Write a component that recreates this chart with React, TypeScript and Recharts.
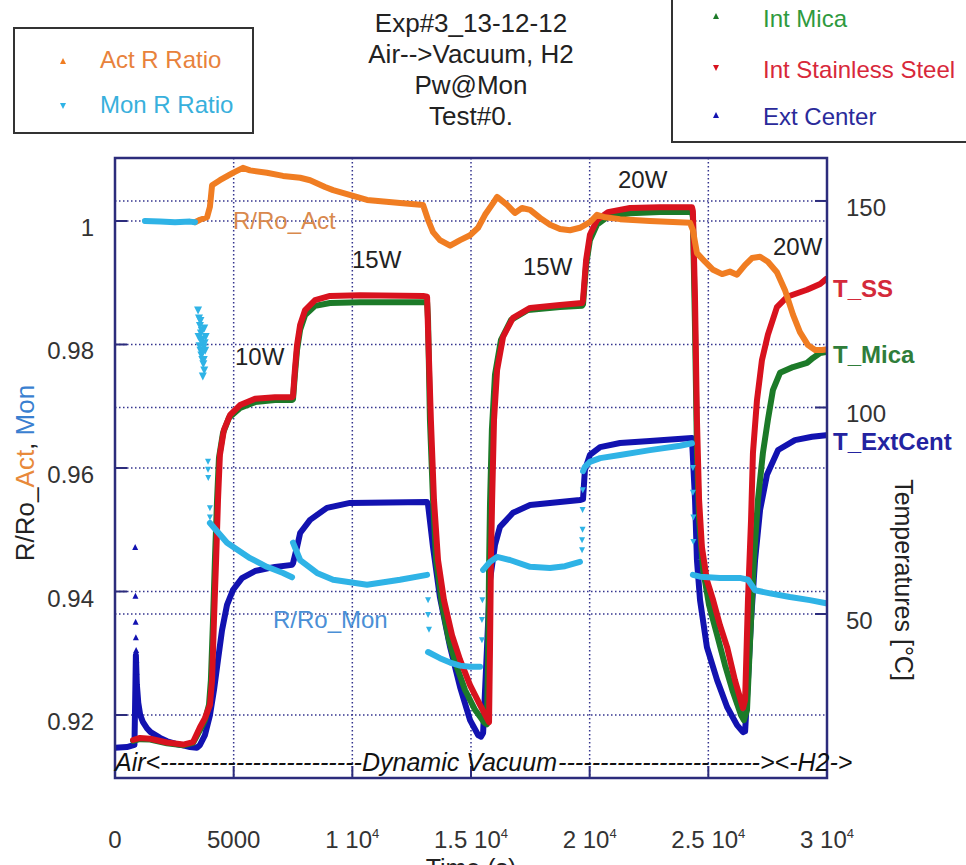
import React from 'react';
import { ComposedChart, Line, Scatter, XAxis, YAxis, CartesianGrid } from 'recharts';

type Pt = [number, number];

// axis ticks
const timeTicks = [0, 5000, 10000, 15000, 20000, 25000, 30000];
const ratioTicks = [0.92, 0.94, 0.96, 0.98, 1];
const tempTicks = [50, 100, 150];

// R/Ro of the active sensor (left axis)
const actRatio: Pt[] = [
  [3370, 0.9998], [3580, 1.0002], [3880, 1.0006], [4000, 1.0023], [4090, 1.0058], [4420, 1.0066],
  [4970, 1.0078], [5390, 1.0086], [5690, 1.0082], [6400, 1.0078], [7080, 1.0073], [7800, 1.0070],
  [8220, 1.0066], [8850, 1.0055], [9190, 1.005], [10620, 1.0034], [12010, 1.0029], [12980, 1.0026],
  [13190, 1.0002], [13400, 0.9982], [13690, 0.9969], [14120, 0.996], [14540, 0.9969], [14960, 0.9977],
  [15300, 0.9989], [15590, 1.001], [15930, 1.0029], [16100, 1.0039], [16520, 1.0026], [16850, 1.0013],
  [17150, 1.0021], [17490, 1.0018], [17910, 1.0005], [18330, 0.9994], [18750, 0.9987], [19170, 0.9985],
  [19590, 0.9989], [20010, 0.9998], [20310, 1.001], [20650, 1.0006], [21280, 1.0003], [22540, 1.0],
  [24230, 0.9997], [24350, 0.9985], [24520, 0.9948], [24860, 0.9934], [25200, 0.9921], [25580, 0.9914],
  [25910, 0.9918], [26210, 0.9913], [26550, 0.9929], [26840, 0.994], [27180, 0.9942], [27510, 0.9934],
  [27890, 0.9917], [28230, 0.9888], [28570, 0.9848], [28860, 0.982], [29200, 0.9799], [29500, 0.9791],
  [29790, 0.9791], [29960, 0.9792],
];

// R/Ro of the monitor sensor (left axis), one array per stage
const monAir: Pt[] = [[1260, 1.0], [1900, 0.9999], [2530, 0.9998], [3160, 0.9999], [3370, 0.9998]];
const mon10W: Pt[] = [[4000, 0.9511], [4720, 0.9479], [5690, 0.9454], [6400, 0.944], [7080, 0.943], [7460, 0.9423]];
const mon15W: Pt[] = [[7500, 0.9479], [7800, 0.9451], [8510, 0.943], [9190, 0.9419], [10620, 0.9411], [12010, 0.9419], [13150, 0.9427]];
const monCool: Pt[] = [[13190, 0.9302], [13690, 0.9292], [14120, 0.9285], [14540, 0.928], [14960, 0.9278], [15380, 0.9278]];
const mon15Wb: Pt[] = [[15510, 0.9435], [15800, 0.9448], [16100, 0.9456], [16640, 0.9451], [17490, 0.944], [18330, 0.9438], [18960, 0.9441], [19590, 0.9448]];
const mon20W: Pt[] = [[19720, 0.9595], [19800, 0.9602], [20010, 0.961], [20440, 0.9616], [21280, 0.9621], [22540, 0.9629], [23810, 0.9636], [24310, 0.964]];
const monH2: Pt[] = [[24350, 0.9427], [24650, 0.9424], [25490, 0.9422], [26330, 0.9422], [26670, 0.9419], [26970, 0.9402], [27600, 0.9397], [28440, 0.9391], [29280, 0.9386], [29960, 0.9381]];
const monCluster: Pt[] = [
  [3500, 0.9855], [3540, 0.9842], [3580, 0.983], [3620, 0.9818], [3660, 0.9808], [3700, 0.98],
  [3740, 0.9795], [3780, 0.9802], [3820, 0.9812], [3600, 0.979], [3640, 0.9782], [3680, 0.9775],
  [3720, 0.9768], [3760, 0.9758], [3700, 0.9748], [3660, 0.9822], [3560, 0.9797], [3800, 0.979],
  [3520, 0.9812], [3760, 0.9826], [3640, 0.9805], [3700, 0.9787], [3600, 0.9838], [3740, 0.9775],
];
const monLoose: Pt[] = [
  [3920, 0.961], [3920, 0.9597], [3930, 0.9584], [4000, 0.9535], [4000, 0.952],
  [13190, 0.9386], [13190, 0.9362], [13230, 0.9338],
  [15460, 0.9321], [15460, 0.9354], [15480, 0.9386],
  [19680, 0.9467], [19680, 0.9483], [19700, 0.95], [19700, 0.9532], [19710, 0.9564],
  [24350, 0.96], [24350, 0.956], [24370, 0.952], [24370, 0.948],
];

// temperatures (right axis)
const extCenter: Pt[] = [
  [0, 17.6], [500, 17.8], [820, 18.3], [880, 40.0], [920, 33.0], [980, 28.5], [1060, 25.6], [1180, 23.8],
  [1350, 22.3], [1500, 21.4], [1900, 20.0], [2200, 19.2], [2530, 18.6], [2870, 18.2], [3160, 17.8],
  [3450, 17.6], [3580, 18.3], [3790, 20.7], [4000, 25.5], [4170, 31.6], [4340, 38.9], [4510, 46.1],
  [4720, 52.2], [4970, 55.8], [5350, 58.7], [5900, 60.4], [6740, 61.4], [7460, 61.9], [7500, 62.3],
  [7670, 66.2], [7800, 69.6], [8220, 72.8], [8930, 75.7], [9900, 76.9], [13150, 77.1], [13190, 76.5],
  [13400, 66.2], [13690, 54.1], [14120, 42.0], [14540, 32.3], [14960, 24.3], [15300, 20.7], [15420, 20.3],
  [15510, 21.2], [15670, 41.3], [15800, 58.2], [16010, 66.7], [16220, 71.1], [16770, 74.5], [17490, 76.4],
  [18750, 77.1], [19590, 77.6], [19720, 77.8], [19800, 84.9], [20010, 88.5], [20440, 90.4], [21280, 91.4],
  [22540, 91.9], [24310, 92.6], [24440, 77.6], [24520, 63.1], [24650, 53.4], [24940, 42.0], [25370, 34.0],
  [25790, 27.5], [26210, 23.1], [26460, 21.4], [26550, 21.6], [26670, 34.0], [26800, 48.5], [26970, 63.1],
  [27180, 75.2], [27470, 83.7], [27940, 89.7], [28650, 92.1], [29370, 92.9], [29960, 93.3],
];
const extSpike: Pt[] = [[850, 66.2], [860, 54.4], [870, 48.1], [880, 44.4], [890, 41.3], [900, 38.9], [910, 36.0]];

const intMica: Pt[] = [
  [760, 19.3], [1050, 19.7], [1480, 19.6], [2190, 18.7], [2870, 18.2], [3290, 18.8], [3580, 21.9],
  [3790, 24.3], [3960, 28.0], [4040, 34.0], [4130, 48.5], [4210, 63.1], [4300, 77.6], [4380, 87.8],
  [4550, 93.8], [4800, 97.5], [5270, 99.9], [5900, 101.3], [6740, 101.8], [7460, 101.8], [7500, 102.0],
  [7580, 107.9], [7670, 113.9], [7800, 118.8], [8010, 122.4], [8430, 124.6], [9060, 125.3], [10320, 125.5],
  [13150, 125.5], [13190, 121.2], [13270, 97.0], [13400, 77.6], [13530, 63.1], [13780, 52.2], [14070, 43.7],
  [14370, 37.7], [14750, 31.6], [15170, 26.8], [15550, 23.8], [15670, 23.3], [15720, 38.9], [15760, 60.7],
  [15800, 76.4], [15880, 94.6], [16010, 107.9], [16260, 116.3], [16690, 121.2], [17400, 123.6], [18750, 124.3],
  [19680, 124.6], [19720, 125.0], [19850, 134.5], [20010, 140.5], [20310, 144.3], [20770, 146.2], [21700, 147.0],
  [22960, 147.3], [24310, 147.3], [24350, 146.0], [24440, 118.8], [24520, 89.7], [24610, 72.8], [24780, 60.7],
  [25030, 52.2], [25370, 44.9], [25700, 37.7], [26040, 31.1], [26380, 25.5], [26500, 24.3], [26630, 26.8],
  [26760, 43.7], [26920, 63.1], [27090, 77.6], [27300, 89.0], [27510, 97.0], [27720, 104.2], [28020, 108.4],
  [28570, 109.8], [29160, 110.8], [29410, 112.0], [29710, 113.2], [29960, 113.4],
];

const intSS: Pt[] = [
  [760, 19.5], [1050, 20.0], [1480, 19.8], [2190, 18.9], [2870, 18.4], [3290, 19.0], [3580, 22.6],
  [3790, 24.8], [4000, 28.0], [4090, 34.0], [4170, 48.5], [4260, 63.1], [4340, 77.6], [4420, 88.5],
  [4590, 94.6], [4850, 98.2], [5270, 100.6], [5900, 102.1], [6740, 102.5], [7460, 102.5], [7500, 102.7],
  [7580, 109.1], [7670, 115.1], [7800, 120.0], [8010, 123.6], [8430, 126.0], [9060, 127.0], [10320, 127.2],
  [12980, 127.0], [13150, 126.8], [13190, 118.8], [13310, 97.0], [13440, 77.6], [13610, 63.1], [13860, 53.4],
  [14200, 44.9], [14540, 38.9], [14960, 32.8], [15380, 28.0], [15670, 24.8], [15760, 23.8], [15800, 41.3],
  [15840, 63.1], [15890, 77.6], [15970, 97.0], [16100, 109.1], [16350, 117.1], [16770, 121.7], [17490, 124.1],
  [18750, 124.8], [19680, 125.3], [19720, 126.0], [19850, 135.7], [20010, 141.8], [20310, 145.4], [20770, 147.3],
  [21700, 148.3], [22960, 148.5], [24310, 148.5], [24350, 147.5], [24440, 126.0], [24520, 97.0], [24610, 77.6],
  [24730, 66.2], [24940, 58.2], [25200, 53.4], [25490, 47.3], [25790, 42.0], [26120, 34.0], [26460, 27.2],
  [26550, 29.2], [26670, 53.4], [26800, 72.8], [26880, 89.0], [27050, 101.8], [27260, 111.5], [27510, 117.6],
  [27890, 124.3], [28320, 126.8], [29160, 128.5], [29710, 129.9], [29960, 131.1],
];

const FONT = '"Liberation Sans", Arial, sans-serif';
const FRAME = '#2c2c7c';
const GRID = '#34348e';
const C_ACT = '#f07d22';
const C_MON = '#2fb3e6';
const C_MICA = '#1c7a28';
const C_SS = '#d8121e';
const C_EXT = '#1212b0';

const rows = (pts: Pt[]) => pts.map(([t, v]) => ({ t, v }));

const fmtTime = (v: number) => {
  if (v === 0) return ['0', ''];
  if (v === 5000) return ['5000', ''];
  return [`${v / 10000} 10`, '4'];
};

const BottomTick = (props: any) => {
  const { x, y, payload } = props;
  const [main, sup] = fmtTime(payload.value);
  return (
    <g>
      <line x1={x} x2={x} y1={y} y2={y - 12} stroke={FRAME} strokeWidth={2} />
      <text x={x} y={y + 70} textAnchor="middle" fontSize={24} fill="#333" fontFamily={FONT}>
        {main}
        {sup && <tspan dy={-10} fontSize={13}>{sup}</tspan>}
      </text>
    </g>
  );
};

const TopTick = (props: any) => {
  const { x, y } = props;
  return <line x1={x} x2={x} y1={y} y2={y + 12} stroke={FRAME} strokeWidth={2} />;
};

const LeftTick = (props: any) => {
  const { x, y, payload } = props;
  const label = payload.value === 1 ? '1' : payload.value.toFixed(2);
  return (
    <g>
      <line x1={x} x2={x + 12} y1={y} y2={y} stroke={FRAME} strokeWidth={2} />
      <text x={x - 21} y={y + 15} textAnchor="end" fontSize={24} fill="#333" fontFamily={FONT}>{label}</text>
    </g>
  );
};

const RightTick = (props: any) => {
  const { x, y, payload } = props;
  return (
    <g>
      <line x1={x - 12} x2={x} y1={y} y2={y} stroke={FRAME} strokeWidth={2} />
      <text x={x + 19} y={y + 15} textAnchor="start" fontSize={24} fill="#333" fontFamily={FONT}>{payload.value}</text>
    </g>
  );
};

const triangle = (color: string, down: boolean, s = 3) => (p: any) => {
  const { cx, cy } = p;
  if (cx == null || cy == null) return <g />;
  const pts = down
    ? `${cx - s},${cy - s} ${cx + s},${cy - s} ${cx},${cy + s}`
    : `${cx - s},${cy + s} ${cx + s},${cy + s} ${cx},${cy - s}`;
  return <polygon points={pts} fill={color} />;
};

const Marker = ({ x, y, color, down }: { x: number; y: number; color: string; down?: boolean }) => {
  const s = 3;
  const pts = down
    ? `${x - s},${y - s} ${x + s},${y - s} ${x},${y + s}`
    : `${x - s},${y + s} ${x + s},${y + s} ${x},${y - s}`;
  return <polygon points={pts} fill={color} />;
};

const lineProps = {
  xAxisId: 'time',
  dataKey: 'v',
  type: 'linear' as const,
  dot: false,
  activeDot: false,
  isAnimationActive: false,
  strokeLinejoin: 'round' as const,
  strokeLinecap: 'round' as const,
};

const Overlay = () => (
  <svg width={966} height={865} style={{ position: 'absolute', left: 0, top: 0, pointerEvents: 'none' }} fontFamily={FONT}>
    {/* frame */}
    <rect x={115} y={158} width={712} height={620} fill="none" stroke={FRAME} strokeWidth={2.5} />

    {/* title */}
    <g fontSize={26} fill="#222" textAnchor="middle">
      <text x={471} y={32}>Exp#3_13-12-12</text>
      <text x={471} y={63}>Air--&gt;Vacuum, H2</text>
      <text x={471} y={94}>Pw@Mon</text>
      <text x={471} y={125}>Test#0.</text>
    </g>

    {/* left legend */}
    <rect x={14} y={28} width={239} height={105} fill="none" stroke="#333" strokeWidth={2} />
    <Marker x={63} y={61} color={C_ACT} />
    <text x={100} y={68} fontSize={24} fill="#e8823c">Act R Ratio</text>
    <Marker x={63} y={106} color={C_MON} down />
    <text x={100} y={113} fontSize={24} fill="#38b0dc">Mon R Ratio</text>

    {/* right legend */}
    <rect x={672} y={-10} width={320} height={152} fill="none" stroke="#333" strokeWidth={2} />
    <Marker x={716} y={16} color={C_MICA} />
    <text x={763} y={27} fontSize={24} fill="#2e9a3e">Int Mica</text>
    <Marker x={716} y={68} color={C_SS} down />
    <text x={763} y={78} fontSize={24} fill="#d8283a">Int Stainless Steel</text>
    <Marker x={716} y={115} color={C_EXT} />
    <text x={763} y={125} fontSize={24} fill="#2a2a9a">Ext Center</text>

    {/* axis titles */}
    <text transform="translate(34,473) rotate(-90)" textAnchor="middle" fontSize={26} fill="#222">
      R/Ro_<tspan fill="#e8893a">Act</tspan>, <tspan fill="#3a7fd0">Mon</tspan>
    </text>
    <text transform="translate(895,580) rotate(90)" textAnchor="middle" fontSize={25} fill="#222">Temperatures [°C]</text>
    <text x={471} y={877} textAnchor="middle" fontSize={25} fill="#222">Time (s)</text>

    {/* annotations */}
    <g fontSize={24} fill="#222">
      <text x={233} y={229} fill="#d9894d">R/Ro_Act</text>
      <text x={235} y={365}>10W</text>
      <text x={352} y={268}>15W</text>
      <text x={523} y={275}>15W</text>
      <text x={618} y={188}>20W</text>
      <text x={773} y={255}>20W</text>
      <text x={273} y={628} fill="#4a8fd6">R/Ro_Mon</text>
    </g>
    <g fontSize={24} fontWeight="bold">
      <text x={833} y={297} fill="#d42a3a">T_SS</text>
      <text x={833} y={363} fill="#2f7d3a">T_Mica</text>
      <text x={833} y={450} fill="#2323a0">T_ExtCent</text>
    </g>
    <g fontSize={25} fontStyle="italic" fill="#111">
      <text x={115} y={771}>Air&lt;</text>
      <text x={160} y={771} textLength={202} lengthAdjust="spacingAndGlyphs">------------------------</text>
      <text x={362} y={771}>Dynamic Vacuum</text>
      <text x={558} y={771} textLength={202} lengthAdjust="spacingAndGlyphs">------------------------</text>
      <text x={760} y={771}>&gt;&lt;-H2-&gt;</text>
    </g>
  </svg>
);

export default function App() {
  return (
    <div style={{ position: 'absolute', left: 0, top: 0, width: 966, height: 865, background: '#fff', fontFamily: FONT }}>
      <ComposedChart width={966} height={865} margin={{ top: 158, right: 0, bottom: 0, left: 0 }}>
        <XAxis
          xAxisId="time"
          type="number"
          dataKey="t"
          domain={[0, 30000]}
          ticks={timeTicks}
          interval={0}
          height={87}
          axisLine={false}
          tickLine={false}
          tickSize={0}
          tickMargin={0}
          tick={<BottomTick />}
          allowDataOverflow
        />
        <XAxis
          xAxisId="top"
          orientation="top"
          type="number"
          dataKey="t"
          domain={[0, 30000]}
          ticks={timeTicks}
          interval={0}
          height={0}
          axisLine={false}
          tickLine={false}
          tickSize={0}
          tickMargin={0}
          tick={<TopTick />}
        />
        <YAxis
          yAxisId="ratio"
          orientation="left"
          type="number"
          dataKey="v"
          domain={[0.9098, 1.0102]}
          ticks={ratioTicks}
          interval={0}
          width={115}
          axisLine={false}
          tickLine={false}
          tickSize={0}
          tickMargin={0}
          tick={<LeftTick />}
          allowDataOverflow
        />
        <YAxis
          yAxisId="temp"
          orientation="right"
          type="number"
          dataKey="v"
          domain={[10.3, 160.4]}
          ticks={tempTicks}
          interval={0}
          width={139}
          axisLine={false}
          tickLine={false}
          tickSize={0}
          tickMargin={0}
          tick={<RightTick />}
          allowDataOverflow
        />
        <CartesianGrid xAxisId="time" yAxisId="ratio" stroke={GRID} strokeDasharray="1.5 2.5" strokeWidth={1.5} />
        <CartesianGrid xAxisId="time" yAxisId="temp" vertical={false} stroke={GRID} strokeDasharray="1.5 2.5" strokeWidth={1.5} />

        <Line {...lineProps} yAxisId="temp" data={rows(extCenter)} stroke={C_EXT} strokeWidth={6} />
        <Line {...lineProps} yAxisId="temp" data={rows(intMica)} stroke={C_MICA} strokeWidth={6} />
        <Line {...lineProps} yAxisId="temp" data={rows(intSS)} stroke={C_SS} strokeWidth={6} />
        <Scatter xAxisId="time" yAxisId="temp" data={rows(extSpike)} fill={C_EXT} shape={triangle(C_EXT, false)} isAnimationActive={false} />

        <Line {...lineProps} yAxisId="ratio" data={rows(actRatio)} stroke={C_ACT} strokeWidth={6} />
        <Line {...lineProps} yAxisId="ratio" data={rows(monAir)} stroke={C_MON} strokeWidth={6} />
        <Line {...lineProps} yAxisId="ratio" data={rows(mon10W)} stroke={C_MON} strokeWidth={6} />
        <Line {...lineProps} yAxisId="ratio" data={rows(mon15W)} stroke={C_MON} strokeWidth={6} />
        <Line {...lineProps} yAxisId="ratio" data={rows(monCool)} stroke={C_MON} strokeWidth={6} />
        <Line {...lineProps} yAxisId="ratio" data={rows(mon15Wb)} stroke={C_MON} strokeWidth={6} />
        <Line {...lineProps} yAxisId="ratio" data={rows(mon20W)} stroke={C_MON} strokeWidth={6} />
        <Line {...lineProps} yAxisId="ratio" data={rows(monH2)} stroke={C_MON} strokeWidth={6} />
        <Scatter xAxisId="time" yAxisId="ratio" data={rows(monCluster)} fill={C_MON} shape={triangle(C_MON, true, 4)} isAnimationActive={false} />
        <Scatter xAxisId="time" yAxisId="ratio" data={rows(monLoose)} fill={C_MON} shape={triangle(C_MON, true)} isAnimationActive={false} />
      </ComposedChart>
      <Overlay />
    </div>
  );
}
